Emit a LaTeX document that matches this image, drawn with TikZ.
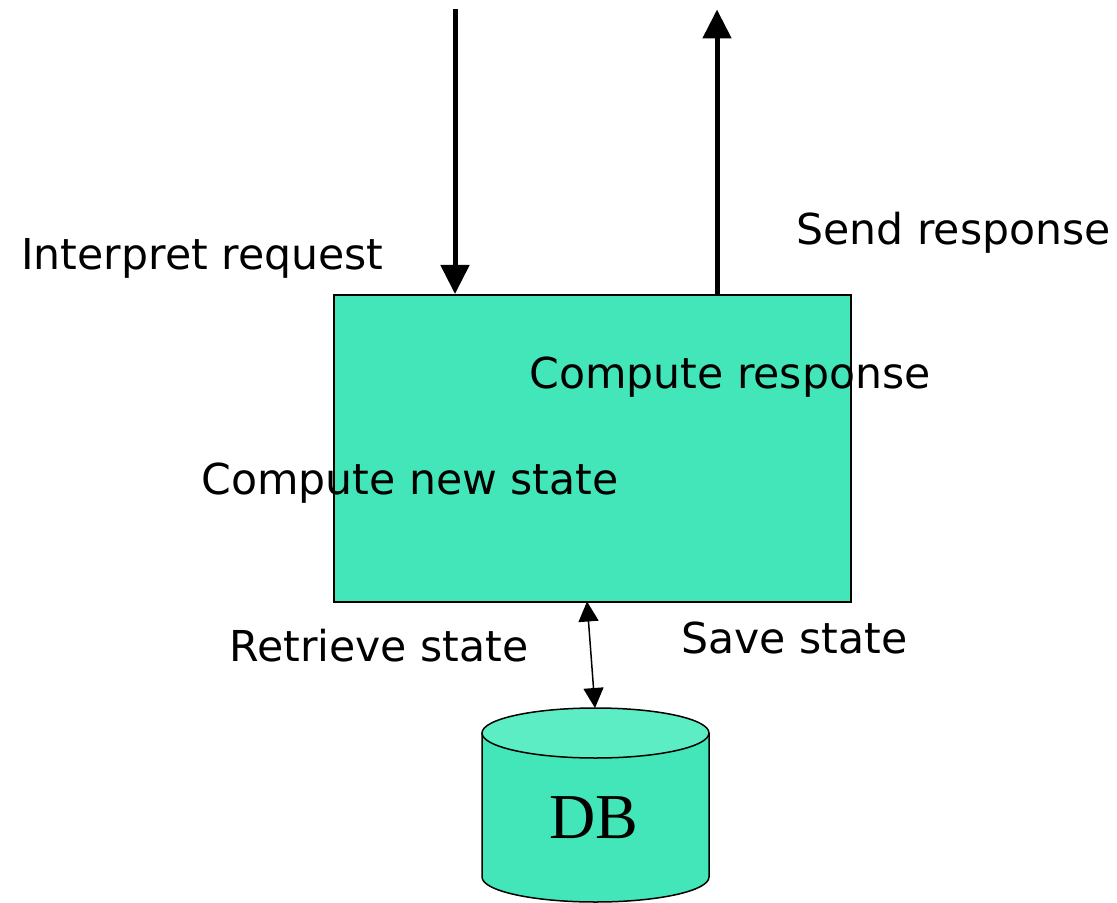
\documentclass[tikz,border=0pt]{standalone}
\usepackage{fontspec}
\setmainfont{DejaVu Sans}
\newfontfamily\dbfont{Liberation Serif}
\usetikzlibrary{arrows.meta}
\definecolor{boxfill}{RGB}{66,230,184}
\definecolor{topfill}{RGB}{92,237,196}
\begin{document}
\begin{tikzpicture}[x=0.5pt,y=-0.5pt,
  lbl/.style={anchor=base west,inner sep=0pt,font=\fontsize{21.3pt}{25pt}\selectfont},
  bigarrow/.style={line width=2.5pt,-{Triangle[width=14pt,length=14.5pt]}},
  thinarrow/.style={line width=0.75pt,{Triangle[width=10pt,length=10pt]}-{Triangle[width=10pt,length=10pt]}}]
\useasboundingbox (0,0) rectangle (1117,903);
% process box
\node[draw,line width=1pt,fill=boxfill,minimum width=258.5pt,minimum height=153.5pt,inner sep=0pt,anchor=north west] (proc) at (333,294) {};
% cylinder
\fill[boxfill] (482,733) -- (482,877) arc[start angle=180,end angle=360,x radius=113.5,y radius=-25] -- (709,733) -- cycle;
\draw[line width=0.75pt] (482,733) -- (482,877) arc[start angle=180,end angle=360,x radius=113.5,y radius=-25] -- (709,733);
\draw[line width=0.75pt,fill=topfill] (595.5,733) ellipse[x radius=113.5,y radius=25];
\coordinate (dbtop) at (595,708);
\node[inner sep=0pt,font=\dbfont\fontsize{32pt}{36pt}\selectfont] (db) at (594,818) {DB};
% connectors
\coordinate (reqin) at (455,9);
\coordinate (respout) at (717,9.5);
\draw[bigarrow] (reqin) -- (reqin |- proc.north);
\draw[bigarrow] (respout |- proc.north) -- (respout);
\coordinate (stateio) at (587,601.5);
\draw[thinarrow] (stateio) -- (dbtop);
% labels
\node[lbl] (l1) at (21,270) {Interpret request};
\node[lbl] (l2) at (796,245) {Send response};
\node[lbl] (l3) at (529,388) {Compute response};
\node[lbl] (l4) at (201,494) {Compute new state};
\node[lbl] (l5) at (229,661) {Retrieve state};
\node[lbl] (l6) at (681,653) {Save state};
\end{tikzpicture}
\end{document}
